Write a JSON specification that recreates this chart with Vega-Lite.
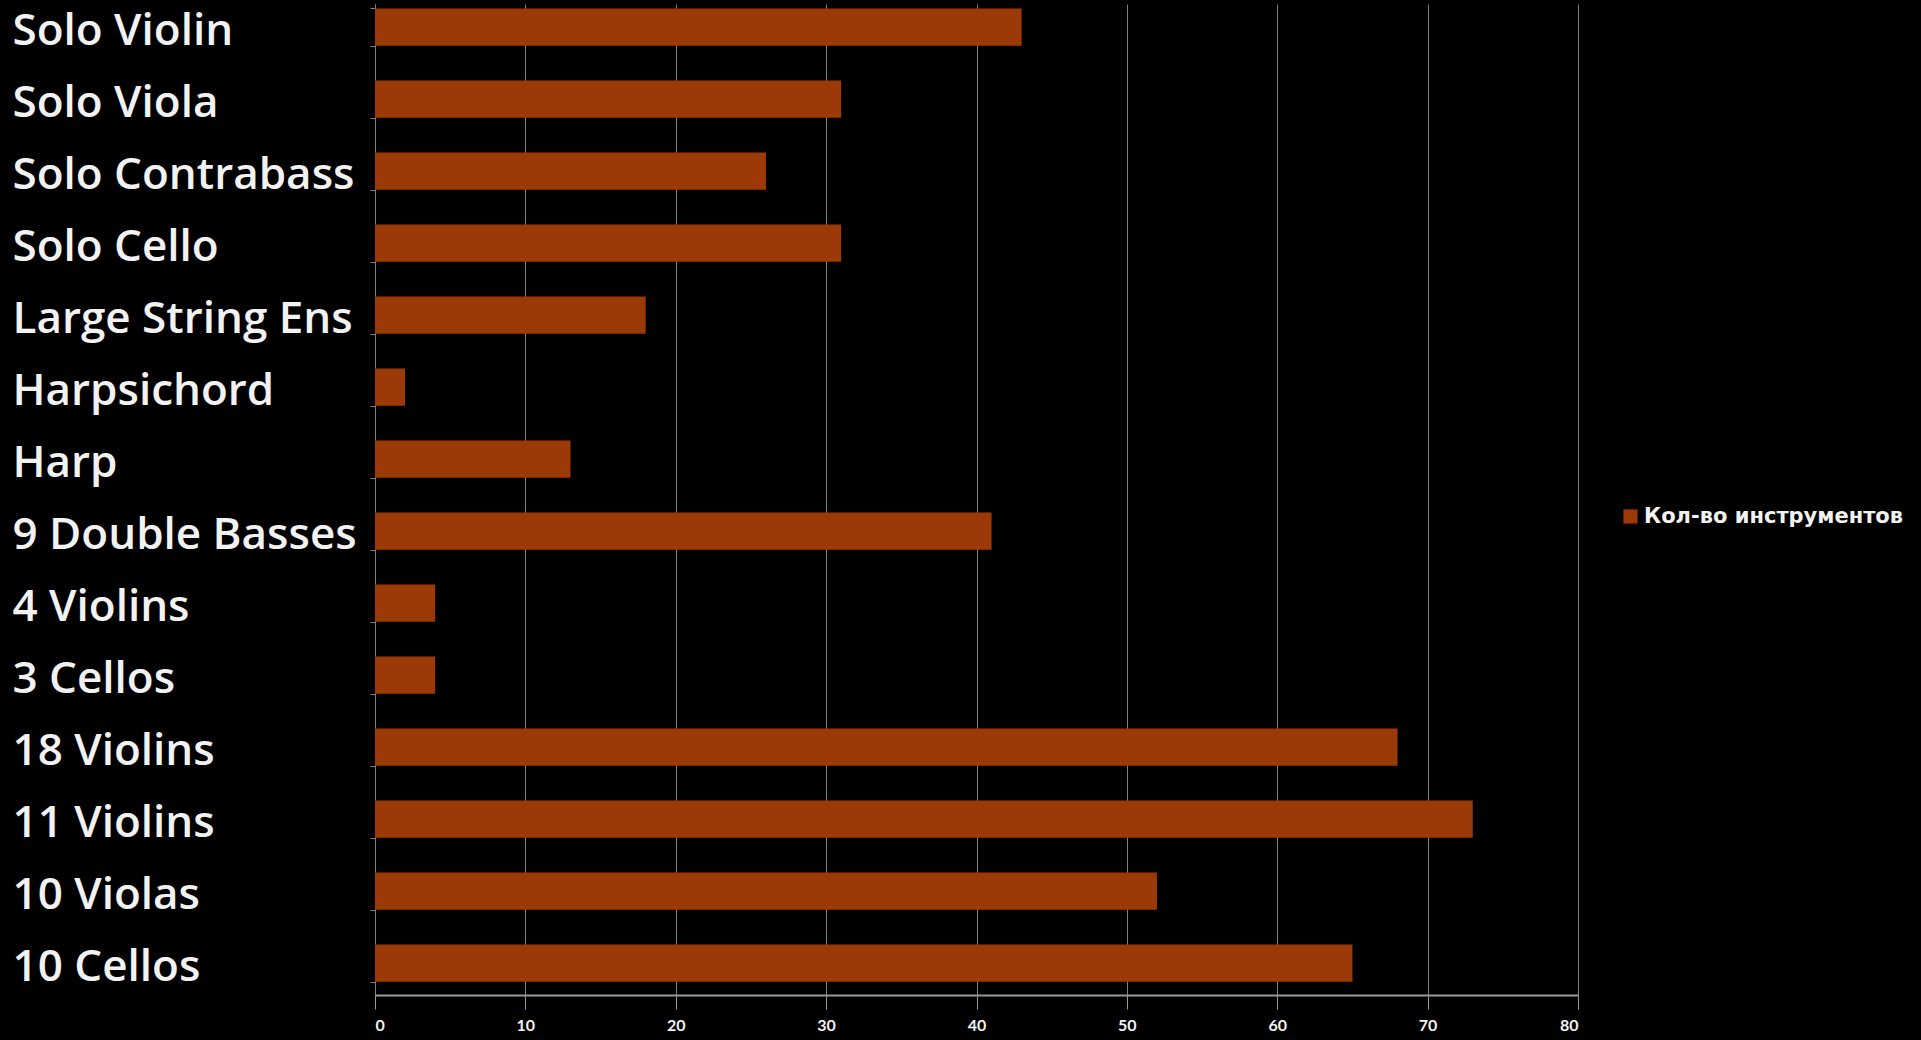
{
  "$schema": "https://vega.github.io/schema/vega-lite/v6.json",
  "width": 1203,
  "height": 991,
  "autosize": {"type": "none"},
  "padding": {"left": 375, "top": 4, "right": 343, "bottom": 45},
  "background": "#000000",
  "config": {"view": {"stroke": null}},
  "data": {
    "values": [
      {"instrument": "Solo Violin", "count": 43, "series": "Кол-во инструментов"},
      {"instrument": "Solo Viola", "count": 31, "series": "Кол-во инструментов"},
      {"instrument": "Solo Contrabass", "count": 26, "series": "Кол-во инструментов"},
      {"instrument": "Solo Cello", "count": 31, "series": "Кол-во инструментов"},
      {"instrument": "Large String Ens", "count": 18, "series": "Кол-во инструментов"},
      {"instrument": "Harpsichord", "count": 2, "series": "Кол-во инструментов"},
      {"instrument": "Harp", "count": 13, "series": "Кол-во инструментов"},
      {"instrument": "9 Double Basses", "count": 41, "series": "Кол-во инструментов"},
      {"instrument": "4 Violins", "count": 4, "series": "Кол-во инструментов"},
      {"instrument": "3 Cellos", "count": 4, "series": "Кол-во инструментов"},
      {"instrument": "18 Violins", "count": 68, "series": "Кол-во инструментов"},
      {"instrument": "11 Violins", "count": 73, "series": "Кол-во инструментов"},
      {"instrument": "10 Violas", "count": 52, "series": "Кол-во инструментов"},
      {"instrument": "10 Cellos", "count": 65, "series": "Кол-во инструментов"}
    ]
  },
  "mark": {"type": "bar"},
  "encoding": {
    "y": {
      "field": "instrument",
      "type": "nominal",
      "sort": null,
      "scale": {"paddingInner": 0.48, "paddingOuter": 0.122, "align": 0.25},
      "axis": {
        "title": null,
        "labelFont": "Open Sans",
        "labelFontWeight": 600,
        "labelFontSize": 44,
        "labelColor": "#f2f2f2",
        "labelAlign": "left",
        "labelPadding": 358,
        "labelLimit": 400,
        "labelOffset": 4,
        "tickBand": "extent",
        "tickSize": 5,
        "tickColor": "#808080",
        "domainColor": "#808080",
        "grid": false
      }
    },
    "x": {
      "field": "count",
      "type": "quantitative",
      "scale": {"domain": [0, 80], "nice": false},
      "axis": {
        "title": null,
        "values": [0, 10, 20, 30, 40, 50, 60, 70, 80],
        "grid": true,
        "gridColor": "#808080",
        "gridWidth": 1,
        "domainColor": "#9a9a9a",
        "domainWidth": 2,
        "tickColor": "#9a9a9a",
        "tickSize": 14,
        "labelFont": "Lato",
        "labelFontWeight": "bold",
        "labelFontSize": 16,
        "labelColor": "#f2f2f2",
        "labelPadding": 8
      }
    },
    "color": {
      "field": "series",
      "type": "nominal",
      "scale": {"range": ["#9b3a06"]},
      "legend": {
        "title": null,
        "orient": "none",
        "legendX": 1245,
        "legendY": 502,
        "symbolType": "square",
        "symbolSize": 200,
        "symbolStrokeWidth": 0,
        "labelFont": "DejaVu Sans",
        "labelFontWeight": "bold",
        "labelFontSize": 21,
        "labelLimit": 400,
        "labelColor": "#f2f2f2",
        "labelOffset": 3
      }
    }
  }
}
